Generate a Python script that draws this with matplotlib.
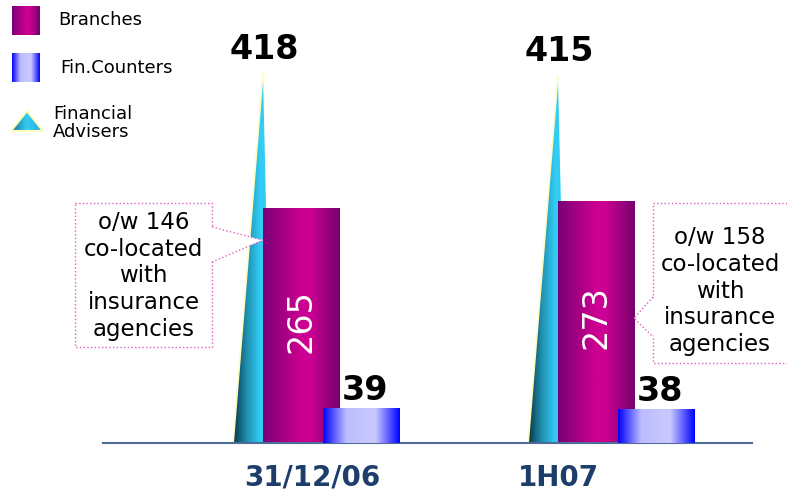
import numpy as np
import matplotlib
matplotlib.use("Agg")
import matplotlib.pyplot as plt
from matplotlib.colors import LinearSegmentedColormap
from matplotlib.patches import Polygon, Rectangle

periods = ["31/12/06", "1H07"]
branches = [265, 273]
fin_counters = [39, 38]
advisers = [418, 415]
colocated = [146, 158]

W, H = 787, 495
NAVY = "#1d3d6b"
PINK = "#e060c0"


def make_cmap(colors, stops):
    return LinearSegmentedColormap.from_list("g", list(zip(stops, colors)))


def gradient_fill(ax, patch, colors, stops, x0, x1, y0, y1, zorder):
    grad = np.linspace(0, 1, 256)[None, :]
    im = ax.imshow(grad, cmap=make_cmap(colors, stops), extent=[x0, x1, y0, y1],
                   aspect="auto", interpolation="bilinear", zorder=zorder)
    im.set_clip_path(patch)
    return im


branch_cols = (["#7a0075", "#cc0092", "#cc0092", "#76006e"], [0, 0.5, 0.62, 1])
counter_cols = (["#0000ff", "#bcbcff", "#cacaff", "#0000ff"], [0, 0.3, 0.68, 1])
adviser_cols = (["#0b3344", "#1f8fb0", "#33ccf5", "#33ccf5"], [0, 0.35, 0.7, 1])

fig = plt.figure(figsize=(W / 100, H / 100), dpi=100)
ax = fig.add_axes([0, 0.105, 1, 0.895])
ax.set_xlim(-301 / 295, 486 / 295)
ax.set_ylim(0, 500)

x = np.arange(len(periods))
bw = 0.258
cw = 0.26
coff = 0.203

# financial advisers: thin cones behind the branch bars
for xi, v in zip(x, advisers):
    verts = [(xi - 0.23, 0), (xi - 0.10, 0), (xi - 0.129, v)]
    tri = Polygon(verts, closed=True, facecolor="none", edgecolor="none", zorder=1)
    ax.add_patch(tri)
    gradient_fill(ax, tri, *adviser_cols, xi - 0.23, xi - 0.10, 0, v, 1)
    ax.add_patch(Polygon([verts[0], verts[2]], closed=False, fill=False,
                         edgecolor="#fffcc0", linewidth=1.2, zorder=1.5))
    ax.text(xi - 0.125, v + 8, str(v), ha="center", va="bottom",
            fontsize=24, fontweight="bold", color="black")

bars_b = ax.bar(x, branches, width=bw, color="none", zorder=2)
for rect, v in zip(bars_b, branches):
    gradient_fill(ax, rect, *branch_cols, rect.get_x(), rect.get_x() + bw,
                  0, v, 2)
    ax.text(rect.get_x() + bw / 2, v * 0.52, str(v), rotation=90,
            ha="center", va="center", fontsize=24, color="white", zorder=4)

bars_c = ax.bar(x + coff, fin_counters, width=cw, color="none", zorder=3)
for rect, v in zip(bars_c, fin_counters):
    gradient_fill(ax, rect, *counter_cols, rect.get_x(), rect.get_x() + cw,
                  0, v, 3)
    ax.text(rect.get_x() + cw / 2 + 0.015, v + 2, str(v), ha="center",
            va="bottom", fontsize=24, fontweight="bold", color="black")

for s in ["top", "right", "left"]:
    ax.spines[s].set_visible(False)
ax.spines["bottom"].set_color("#4f6c98")
ax.spines["bottom"].set_linewidth(1.5)
ax.spines["bottom"].set_bounds(-0.671, 1.529)
ax.set_yticks([])
ax.set_xticks([0.04, 0.871])
ax.set_xticklabels(periods, fontsize=20, fontweight="bold", color=NAVY)
ax.tick_params(axis="x", length=0, pad=15)
ax.patch.set_alpha(0)

# overlay in figure pixels (y down) for legend and callouts
lax = fig.add_axes([0, 0, 1, 1], zorder=5)
lax.axis("off")
lax.patch.set_alpha(0)


def to_px(xy):
    dx, dy = ax.transData.transform(xy)
    return dx, H - dy


for (y0, y1), (cols, stops) in zip([(6, 35), (53, 82)], [branch_cols, counter_cols]):
    sq = Rectangle((12, y0), 28, y1 - y0, fc="none", ec="none")
    lax.add_patch(sq)
    gradient_fill(lax, sq, cols, stops, 12, 40, y1, y0, 1)
leg_tri = [(11, 131), (43, 131), (27, 111)]
tri = Polygon(leg_tri, closed=True, fc="none", ec="none")
lax.add_patch(tri)
gradient_fill(lax, tri, ["#1b6f8a", "#33ccf5", "#2aa8d0"], [0, 0.5, 1],
              11, 43, 131, 111, 1)
lax.add_patch(Polygon(leg_tri, closed=True, fill=False, ec="#fffcc0", lw=1.5))
lax.text(58, 20, "Branches", fontsize=13, va="center")
lax.text(60, 68, "Fin.Counters", fontsize=13, va="center")
lax.text(53, 123, "Financial\nAdvisers", fontsize=13, va="center", linespacing=0.95)

# callouts: branches co-located with insurance agencies
boxes = [(75, 203, 137, 144), (653, 203, 140, 160)]
tips = [to_px((x[0] - bw / 2, 229)), to_px((x[1] + bw / 2, 141))]
roots = [((212, 227), (212, 262)), ((653, 297), (653, 337))]
for n, (bx, by, bwid, bht), tip, (r1, r2) in zip(colocated, boxes, tips, roots):
    lax.add_patch(Rectangle((bx, by), bwid, bht, fc="white", ec=PINK,
                            ls=":", lw=1, zorder=6))
    step = 1 if r1[0] > bx else -1
    lax.add_patch(Polygon([(r1[0] - 2 * step, r1[1]), tip, (r2[0] - 2 * step, r2[1])],
                          closed=True, fc="white", ec="none", zorder=7))
    lax.plot([r1[0], tip[0], r2[0]], [r1[1], tip[1], r2[1]], color=PINK,
             ls=":", lw=1, zorder=8)
    cy = by + bht / 2 + (1 if step > 0 else 8)
    lax.text(bx + bwid / 2 if step > 0 else bx + 67, cy,
             f"o/w {n}\nco-located\nwith\ninsurance\nagencies",
             ha="center", va="center", fontsize=16.5, linespacing=1.22, zorder=9)

lax.set_xlim(0, W)
lax.set_ylim(H, 0)

fig.savefig("out.png", dpi=100)
